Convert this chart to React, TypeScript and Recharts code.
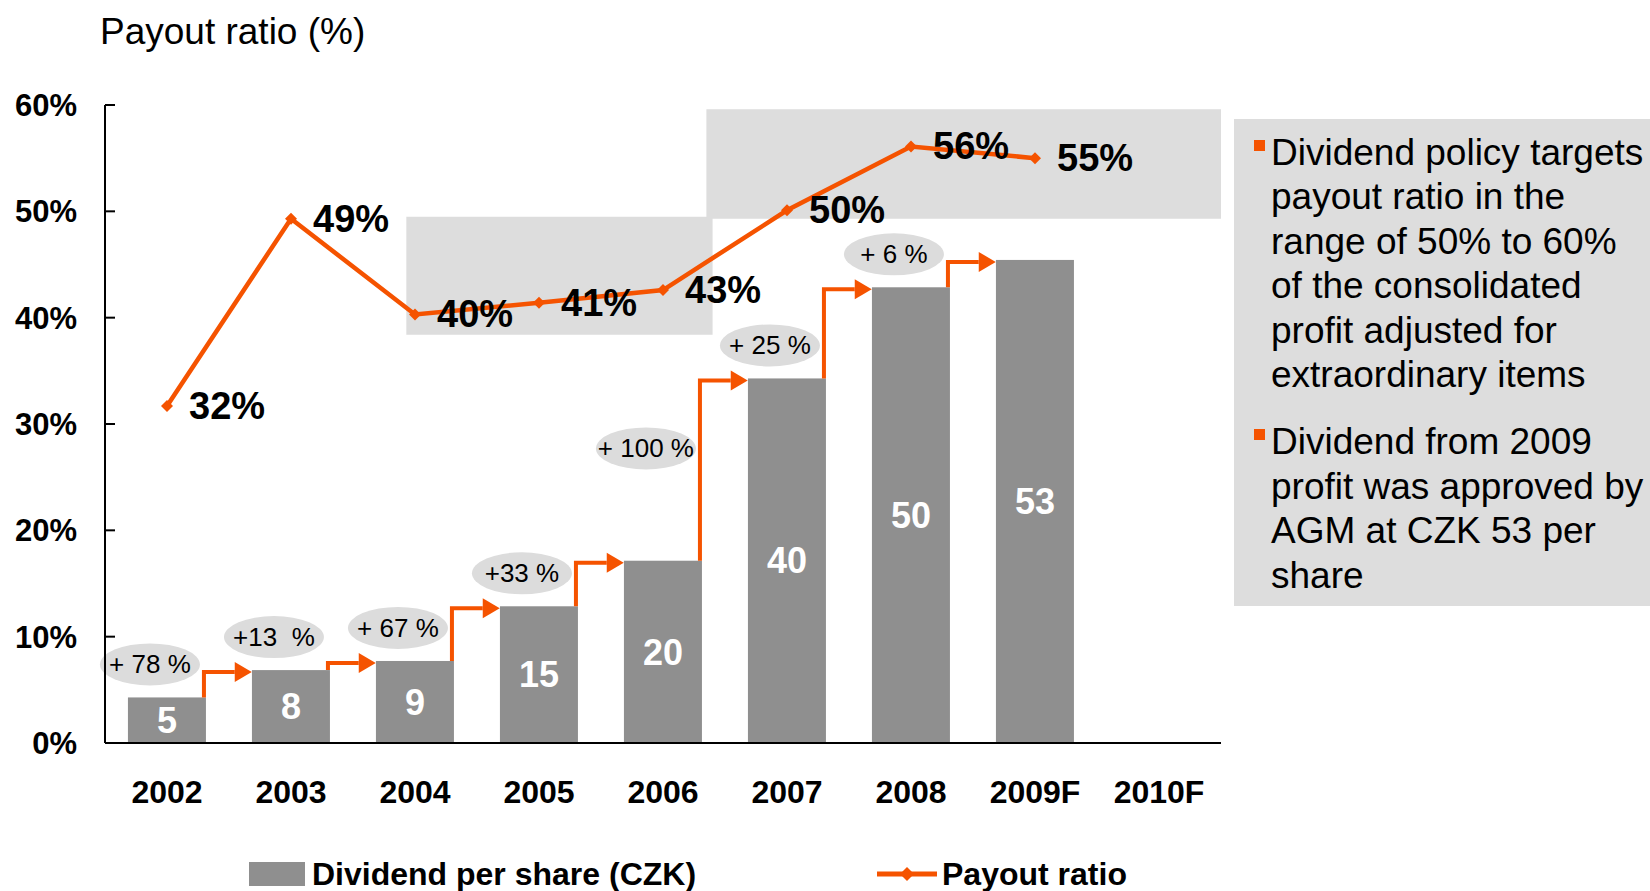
import {
  ComposedChart,
  Bar,
  Line,
  XAxis,
  YAxis,
  LabelList,
  ReferenceArea,
  Legend,
} from "recharts";

const years = ["2002", "2003", "2004", "2005", "2006", "2007", "2008", "2009F", "2010F"];
const dividend = [5, 8, 9, 15, 20, 40, 50, 53, null];
const payout = [31.7, 49.3, 40.3, 41.4, 42.6, 50.1, 56.1, 55.0, null];
const growthLabels = ["+ 78 %", "+13  %", "+ 67 %", "+33 %", "+ 100 %", "+ 25 %", "+ 6 %"];
const yTicks = [0, 10, 20, 30, 40, 50, 60];

// target ranges shaded behind the line (category position units, percent)
const bandX1 = [1.93, 4.35];
const bandX2 = [4.4, 8.5];
const bandY1 = [38.4, 49.3];
const bandY2 = [49.5, 59.6];

const notes = [
  ["Dividend policy targets", "payout ratio in the", "range of 50% to 60%", "of the consolidated", "profit adjusted for", "extraordinary items"],
  ["Dividend from 2009", "profit was approved by", "AGM at CZK 53 per", "share"],
];

const data = years.map((year, i) => ({
  idx: i,
  year,
  dividend: dividend[i],
  payout: payout[i],
}));

const ORANGE = "#F55300";
const GRAY = "#8f8f8f";
const LIGHT = "#dddddd";
const BAR_GAP = 0.185;
const FONT = "'Liberation Sans', Arial, sans-serif";

const ArrowBar = (props: any) => {
  const { x, y, width, height, index, fill } = props;
  const rect = <rect x={x} y={y} width={width} height={height} fill={fill} />;
  const value = dividend[index];
  const next = dividend[index + 1];
  if (next == null || !value) return rect;
  const unit = height / value;
  const nextTop = y + height - next * unit;
  const step = width / (1 - 2 * BAR_GAP);
  const nextLeft = x + step;
  const vx = x + width - 2;
  const hy = nextTop + 2;
  const head = 17;
  const cx = x + width / 2 - 17;
  const cy = Math.min(y - 33, nextTop + 70);
  return (
    <g>
      {rect}
      <ellipse cx={cx} cy={cy} rx={50} ry={21} fill="#dcdcdc" />
      <text
        x={cx}
        y={cy}
        textAnchor="middle"
        dominantBaseline="central"
        fontSize={26}
        fill="#000"
        style={{ whiteSpace: "pre" }}
      >
        {growthLabels[index]}
      </text>
      <path
        d={`M${vx},${y} V${hy} H${nextLeft - head}`}
        stroke={ORANGE}
        strokeWidth={4}
        fill="none"
      />
      <path
        d={`M${nextLeft},${hy} L${nextLeft - head},${hy - 10} L${nextLeft - head},${hy + 10} Z`}
        fill={ORANGE}
      />
    </g>
  );
};

const Diamond = (props: any) => {
  const { cx, cy } = props;
  if (cx == null || cy == null) return <g />;
  return <path d={`M${cx},${cy - 6} L${cx + 6},${cy} L${cx},${cy + 6} L${cx - 6},${cy} Z`} fill={ORANGE} />;
};

const payoutLabel = (p: any) => {
  if (p.value == null) return null;
  return (
    <text
      x={p.x + 22}
      y={p.y}
      dominantBaseline="central"
      fontSize={38}
      fontWeight={700}
      fill="#000"
    >
      {Math.round(Number(p.value))}%
    </text>
  );
};

const legendLeft = [249, 877];

const renderLegend = (props: any) => {
  const payload = props.payload || [];
  return (
    <div style={{ position: "relative", width: 1650, height: 40, fontFamily: FONT }}>
      {payload.map((entry: any, i: number) => {
        const left = legendLeft[i] ?? 249;
        const isLine = entry.type === "line" || entry.dataKey === "payout";
        return (
          <div key={i}>
            {isLine ? (
              <svg style={{ position: "absolute", left, top: 0 }} width={60} height={40}>
                <line x1={0} y1={20} x2={60} y2={20} stroke={ORANGE} strokeWidth={5} />
                <path d="M30,13 L37,20 L30,27 L23,20 Z" fill={ORANGE} />
              </svg>
            ) : (
              <div style={{ position: "absolute", left, top: 8, width: 56, height: 24, background: GRAY }} />
            )}
            <span
              style={{
                position: "absolute",
                left: left + (isLine ? 65 : 63),
                top: 0,
                fontSize: 32,
                fontWeight: 700,
                lineHeight: "40px",
                whiteSpace: "nowrap",
                color: "#000",
              }}
            >
              {entry.value}
            </span>
          </div>
        );
      })}
    </div>
  );
};

export default function App() {
  return (
    <div
      style={{
        position: "absolute",
        left: 0,
        top: 0,
        width: 1650,
        height: 891,
        background: "#fff",
        fontFamily: FONT,
        overflow: "hidden",
      }}
    >
      <div
        style={{
          position: "absolute",
          left: 100,
          top: 13,
          fontSize: 37,
          lineHeight: "37px",
          whiteSpace: "nowrap",
          color: "#000",
        }}
      >
        Payout ratio (%)
      </div>

      <ComposedChart
        width={1650}
        height={891}
        data={data}
        margin={{ top: 105, right: 429, bottom: 88, left: 0 }}
        barCategoryGap={`${BAR_GAP * 100}%`}
        style={{ fontFamily: FONT }}
      >
        <XAxis
          xAxisId="num"
          dataKey="idx"
          type="number"
          domain={[-0.5, 8.5]}
          hide
          allowDataOverflow
        />
        <XAxis
          dataKey="year"
          height={60}
          tickLine={false}
          tickSize={0}
          tickMargin={37}
          axisLine={{ stroke: "#000", strokeWidth: 2 }}
          tick={{ fontSize: 32, fontWeight: 700, fill: "#000" }}
          interval={0}
        />
        <YAxis
          yAxisId="left"
          width={105}
          domain={[0, 60]}
          ticks={yTicks}
          tickFormatter={(v) => `${v}%`}
          tickSize={-10}
          tickMargin={38}
          axisLine={{ stroke: "#000", strokeWidth: 2 }}
          tickLine={{ stroke: "#000", strokeWidth: 2 }}
          tick={{ fontSize: 31, fontWeight: 700, fill: "#000" }}
        />
        <YAxis yAxisId="right" orientation="right" domain={[0, 70]} hide />

        {bandX1.map((x1, i) => (
          <ReferenceArea
            key={i}
            xAxisId="num"
            yAxisId="left"
            x1={x1}
            x2={bandX2[i]}
            y1={bandY1[i]}
            y2={bandY2[i]}
            fill={LIGHT}
            fillOpacity={1}
            stroke="none"
            ifOverflow="visible"
          />
        ))}

        <Legend
          content={renderLegend}
          layout="horizontal"
          verticalAlign="middle"
          align="center"
          wrapperStyle={{ left: 0, top: 854, width: 1650, height: 40 }}
        />

        <Bar
          yAxisId="right"
          dataKey="dividend"
          name="Dividend per share (CZK)"
          fill={GRAY}
          shape={ArrowBar}
          isAnimationActive={false}
        >
          <LabelList dataKey="dividend" position="center" fill="#fff" fontSize={36} fontWeight={700} />
        </Bar>
        <Line
          yAxisId="left"
          dataKey="payout"
          name="Payout ratio"
          type="linear"
          stroke={ORANGE}
          strokeWidth={4.5}
          dot={Diamond}
          activeDot={false}
          isAnimationActive={false}
        >
          <LabelList dataKey="payout" content={payoutLabel} />
        </Line>
      </ComposedChart>

      <div
        style={{
          position: "absolute",
          left: 1234,
          top: 119,
          width: 416,
          height: 487,
          background: LIGHT,
        }}
      >
        {notes.map((lines, p) => (
          <div key={p} style={{ position: "relative", marginLeft: 37, marginTop: p === 0 ? 12 : 23 }}>
            <div
              style={{
                position: "absolute",
                left: -17,
                top: 9,
                width: 11,
                height: 11,
                background: ORANGE,
              }}
            />
            {lines.map((l, j) => (
              <div
                key={j}
                style={{ fontSize: 37, lineHeight: "44.4px", whiteSpace: "nowrap", color: "#000" }}
              >
                {l}
              </div>
            ))}
          </div>
        ))}
      </div>
    </div>
  );
}
